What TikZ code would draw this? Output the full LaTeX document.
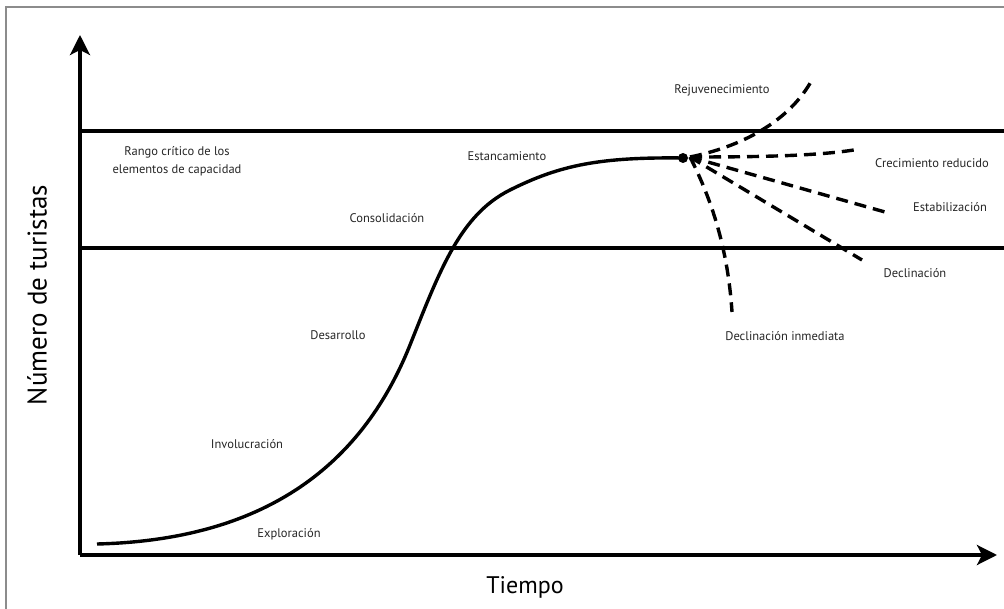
\documentclass[tikz,border=0pt]{standalone}
\usepackage{fontspec}
\setmainfont{PT Sans}
\usetikzlibrary{arrows.meta}
\tikzset{
  lbl/.style={inner sep=0pt, text=black!85, font=\fontsize{12.5}{18}\selectfont},
  axlbl/.style={inner sep=0pt, text=black, font=\fontsize{24}{26}\selectfont},
  axisline/.style={line width=3.4pt, -{Stealth[length=20pt,width=20pt,inset=5pt]}},
  hline/.style={line width=3.2pt},
  curve/.style={line width=3.4pt},
  dashline/.style={line width=3.4pt, dash pattern=on 12pt off 7pt},
  frame/.style={draw=black!45, line width=1.5pt}
}
\begin{document}
\begin{tikzpicture}[x=1pt,y=-1pt]
\useasboundingbox (0,0) rectangle (1004,609);
\fill[white] (0,0) rectangle (1004,609);
% frame
\coordinate (FL) at (6,609);
\coordinate (FC) at (6,7);
\coordinate (FR) at (1004,7);
\draw[frame] (FL) -- (FC) -- (FR);
% axes
\coordinate (O) at (80,555);
\coordinate (Ytip) at (80,35);
\coordinate (Xtip) at (997,555);
\draw[axisline] (O) -- (Ytip);
\draw[axisline] (O) -- (Xtip);
% capacity lines
\coordinate (U1) at (80,131);
\coordinate (U2) at (1004,131);
\coordinate (L1) at (80,248);
\coordinate (L2) at (1004,248);
\draw[hline] (U1) -- (U2);
\draw[hline] (L1) -- (L2);
% main curve
\coordinate (S) at (97,544);
\coordinate (P1) at (410,345);
\coordinate (P2) at (510,190);
\coordinate (J) at (683,158);
\draw[curve] (S) .. controls (260,540) and (360,470) .. (P1)
  .. controls (440,270) and (460,215) .. (P2)
  .. controls (560,165) and (600,157) .. (J);
\fill (J) circle (5pt);
% branches
\coordinate (Jb) at (690,157);
\coordinate (Rj) at (813,78);
\coordinate (Cr) at (860,149);
\coordinate (Es) at (885,212);
\coordinate (De) at (862,260);
\coordinate (Di) at (732,312);
\draw[dashline] (Jb) .. controls (740,147) and (790,122) .. (Rj);
\draw[dashline] (Jb) .. controls (760,157) and (820,156) .. (Cr);
\draw[dashline] (Jb) -- (Es);
\draw[dashline] (Jb) -- (De);
\draw[dashline] (Jb) .. controls (712,200) and (728,250) .. (Di);
% labels
\node[lbl, align=center] (rango) at (177,161) {Rango crítico de los\\elementos de capacidad};
\node[lbl] (estan) at (507,156) {Estancamiento};
\node[lbl] (conso) at (387,218) {Consolidación};
\node[lbl] (desar) at (338,335) {Desarrollo};
\node[lbl] (invol) at (247,444) {Involucración};
\node[lbl] (explo) at (289,534) {Exploración};
\node[lbl] (rejuv) at (722,90) {Rejuvenecimiento};
\node[lbl] (crec) at (932,163) {Crecimiento reducido};
\node[lbl] (estab) at (950,207) {Estabilización};
\node[lbl] (decl) at (915,273) {Declinación};
\node[lbl] (decli) at (785,336) {Declinación inmediata};
\node[axlbl] (tiempo) at (525,587) {Tiempo};
\node[axlbl, font=\fontsize{27}{29}\selectfont, rotate=90] (num) at (37,295) {Número de turistas};
\end{tikzpicture}
\end{document}
